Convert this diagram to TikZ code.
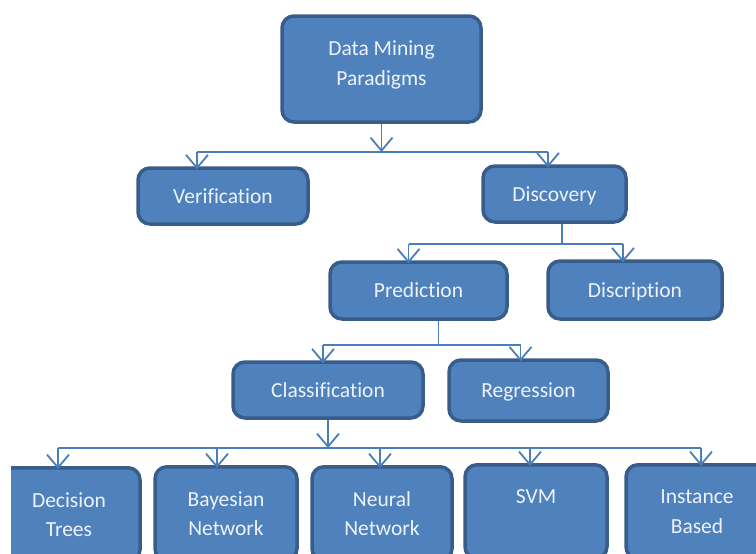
\documentclass[tikz,border=0pt]{standalone}
\usepackage{fontspec}
\setmainfont{Carlito}[Ligatures=NoCommon]
\usetikzlibrary{arrows.meta}
\definecolor{boxfill}{HTML}{4F81BD}
\definecolor{boxedge}{HTML}{385D8A}
\definecolor{linec}{HTML}{4A7EBB}
\definecolor{txtc}{HTML}{EEF3FA}
\tikzset{
  box/.style={draw=boxedge, fill=boxfill, line width=3.5pt, rounded corners=12pt,
    text=txtc, font=\fontsize{21.5}{29.5}\selectfont, align=center, inner sep=0pt},
  oneline/.style={box, text height=19pt, text depth=5pt},
  conn/.style={draw=linec, line width=1.8pt},
  arr/.style={conn, -{Straight Barb[length=13pt,width=22pt,line width=1.8pt]}},
}
\begin{document}
\begin{tikzpicture}[x=1pt,y=-1pt]
\useasboundingbox (0,0) rectangle (756,554);
\clip (0,0) rectangle (756,554);
% nodes
\node[box, minimum width=199pt, minimum height=106pt] (top) at (381.5,69) {Data Mining\\Paradigms\\[-18pt]\mbox{}};
\node[oneline, minimum width=170pt, minimum height=56pt] (ver) at (223,196) {Verification};
\node[oneline, minimum width=143pt, minimum height=56pt] (dis) at (554.5,194) {Discovery};
\node[oneline, minimum width=177pt, minimum height=57pt] (pred) at (418.5,290.5) {Prediction};
\node[oneline, minimum width=174pt, minimum height=58pt] (disc) at (635,290) {Discription};
\node[oneline, minimum width=190pt, minimum height=56pt] (cls) at (328,390) {Classification};
\node[oneline, minimum width=159pt, minimum height=61pt] (reg) at (528.5,390.5) {Regression};
\begin{scope}
\clip (11,440) rectangle (756,554);
\node[box, minimum width=142pt, minimum height=94pt, anchor=north] (dt) at (69,466) {Decision\\Trees};
\node[box, minimum width=142pt, minimum height=94pt, anchor=north] (bn) at (226,465) {Bayesian\\Network};
\node[box, minimum width=140pt, minimum height=94pt, anchor=north] (nn) at (382,465) {Neural\\Network};
\node[box, minimum width=142pt, minimum height=94pt, anchor=north] (svm) at (536,463) {SVM\\\mbox{}};
\node[box, minimum width=142pt, minimum height=94pt, anchor=north] (ib) at (697,463) {Instance\\Based};
\end{scope}
% level 1
\coordinate (b1) at (0,152);
\coordinate (v1) at ([xshift=-26pt]ver.north);
\coordinate (d1) at ([xshift=-6.5pt]dis.north);
\draw[arr] (top.south) -- (top.south |- b1);
\draw[conn] (v1 |- b1) -- (d1 |- b1);
\draw[arr] (v1 |- b1) -- ([yshift=-3pt]v1);
\draw[arr] (d1 |- b1) -- ([yshift=-3pt]d1);
% level 2
\coordinate (b2) at (0,244);
\coordinate (s2) at ([xshift=7.5pt]dis.south);
\coordinate (p2) at ([xshift=-10pt]pred.north);
\coordinate (q2) at ([xshift=-12pt]disc.north);
\draw[conn] (s2) -- (s2 |- b2);
\draw[conn] (p2 |- b2) -- (q2 |- b2);
\draw[arr] (p2 |- b2) -- ([yshift=-3pt]p2);
\draw[arr] (q2 |- b2) -- ([yshift=-3pt]q2);
% level 3
\coordinate (b3) at (0,345);
\coordinate (s3) at ([xshift=20pt]pred.south);
\coordinate (c3) at ([xshift=-5pt]cls.north);
\coordinate (r3) at ([xshift=-8pt]reg.north);
\draw[conn] (s3) -- (s3 |- b3);
\draw[conn] (c3 |- b3) -- (r3 |- b3);
\draw[arr] (c3 |- b3) -- ([yshift=-3pt]c3);
\draw[arr] (r3 |- b3) -- ([yshift=-3pt]r3);
% level 4
\coordinate (b4) at (0,448);
\coordinate (s4) at (cls.south);
\coordinate (t1) at ([xshift=-11pt]dt.north);
\coordinate (t2) at ([xshift=-9pt]bn.north);
\coordinate (t3) at ([xshift=-2pt]nn.north);
\coordinate (t4) at ([xshift=-6pt]svm.north);
\coordinate (t5) at ([xshift=4pt]ib.north);
\draw[arr] (s4) -- (s4 |- b4);
\draw[conn] (t1 |- b4) -- (t5 |- b4);
\foreach \t in {t1,t2,t3,t4,t5}
  \draw[arr] (\t |- b4) -- ([yshift=-3pt]\t);
\end{tikzpicture}
\end{document}
